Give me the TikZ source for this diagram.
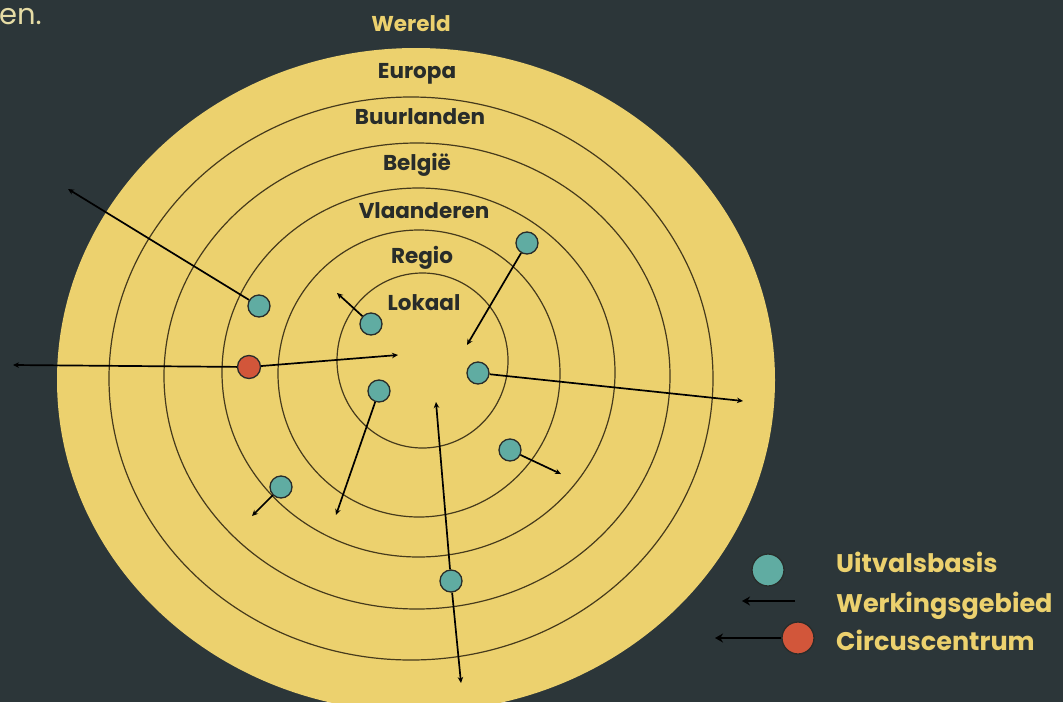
\documentclass[tikz,border=0pt]{standalone}
\usepackage{fontspec}
\setmainfont{Poppins}
\usepackage{tikz}
\usetikzlibrary{arrows.meta,positioning}

\definecolor{board}{RGB}{44,54,57}
\definecolor{sand}{RGB}{236,209,110}
\definecolor{tealdot}{RGB}{96,172,162}
\definecolor{reddot}{RGB}{210,86,58}
\definecolor{ink}{RGB}{40,44,42}
\definecolor{ringline}{RGB}{70,58,28}
\definecolor{pale}{RGB}{230,220,165}

\begin{document}
\begin{tikzpicture}[
    x=1pt, y=-1pt,
    base/.style={circle, draw=ink, fill=tealdot, line width=1.3pt, minimum size=22pt, inner sep=0pt},
    centrum/.style={circle, draw=ink, fill=reddot, line width=1.3pt, minimum size=23pt, inner sep=0pt},
    reach/.style={line width=1.7pt, draw=black, -{Stealth[length=6pt,width=5.5pt]}},
    zone/.style={font=\bfseries\fontsize{21.5}{24}\selectfont, text=ink, anchor=base, inner sep=0pt},
    key/.style={font=\bfseries\fontsize{25.5}{28}\selectfont, text=sand, anchor=base west, inner sep=0pt}
]
    % Background
    \fill[board] (0,0) rectangle (1063,702);
    \clip (0,0) rectangle (1063,702);
    \node[text=pale, font=\fontsize{29}{31}\selectfont, anchor=base west, inner sep=0pt] (tail) at (-1,24) {en.};

    % Disc and rings
    \fill[sand] (416,380) ellipse [x radius=359, y radius=332];
    \foreach \cx/\cy/\rx/\ry in {411/378.5/302/281.5, 417/376/253/233, 418.5/372.5/196.5/184.5,
                                 419/373.5/141/143.5, 422.5/360.5/85.5/87.5}
        \draw[ringline, line width=1.2pt] (\cx,\cy) ellipse [x radius=\rx, y radius=\ry];

    % Zone labels
    \node[zone, text=sand] (wereld) at (411,31) {Wereld};
    \node[zone] (europa) at (417,78) {Europa};
    \node[zone] (buurlanden) at (420,124) {Buurlanden};
    \node[zone] (belgie) at (417,170) {België};
    \node[zone] (vlaanderen) at (424,218) {Vlaanderen};
    \node[zone] (regio) at (422,263) {Regio};
    \node[zone] (lokaal) at (424,310) {Lokaal};

    % Uitvalsbases
    \node[base] (b1) at (259,306) {};
    \node[base] (b2) at (371,324) {};
    \node[base] (b3) at (527,243) {};
    \node[base] (b4) at (478,373) {};
    \node[base] (b5) at (379,391) {};
    \node[base] (b6) at (510,450) {};
    \node[base] (b7) at (281,487) {};
    \node[base] (b8) at (451,581) {};
    \node[centrum] (cc) at (249,367) {};

    % Werkingsgebied
    \coordinate (r1) at (68,189);
    \coordinate (r2) at (337,293);
    \coordinate (r3) at (467,345);
    \coordinate (r4) at (743,401);
    \coordinate (r5) at (336,515);
    \coordinate (r6) at (561,474);
    \coordinate (r7) at (252,516);
    \coordinate (r8a) at (436,402);
    \coordinate (r8b) at (461,683);
    \coordinate (rcl) at (13,365);
    \coordinate (rcr) at (398,355);
    \foreach \b/\r in {b1/r1, b2/r2, b3/r3, b4/r4, b5/r5, b6/r6, b7/r7, b8/r8a, b8/r8b, cc/rcl, cc/rcr}
        \draw[reach] (\b) -- (\r);

    % Legend
    \node[base, minimum size=32pt] (kbase) at (768,570) {};
    \coordinate (kfrom) at (795,601);
    \coordinate (kto) at (742,601);
    \draw[reach, line width=2.4pt, -{Stealth[length=8pt,width=9pt]}] (kfrom) -- (kto);
    \node[centrum, minimum size=32pt] (kcentrum) at (798,638) {};
    \coordinate (kleft) at (715,638);
    \draw[reach, line width=2.4pt, -{Stealth[length=8pt,width=9pt]}] (kcentrum) -- (kleft);
    \node[key] (kt1) at (836,572) {Uitvalsbasis};
    \node[key] (kt2) at (836,612) {Werkingsgebied};
    \node[key] (kt3) at (836,650) {Circuscentrum};
\end{tikzpicture}
\end{document}
